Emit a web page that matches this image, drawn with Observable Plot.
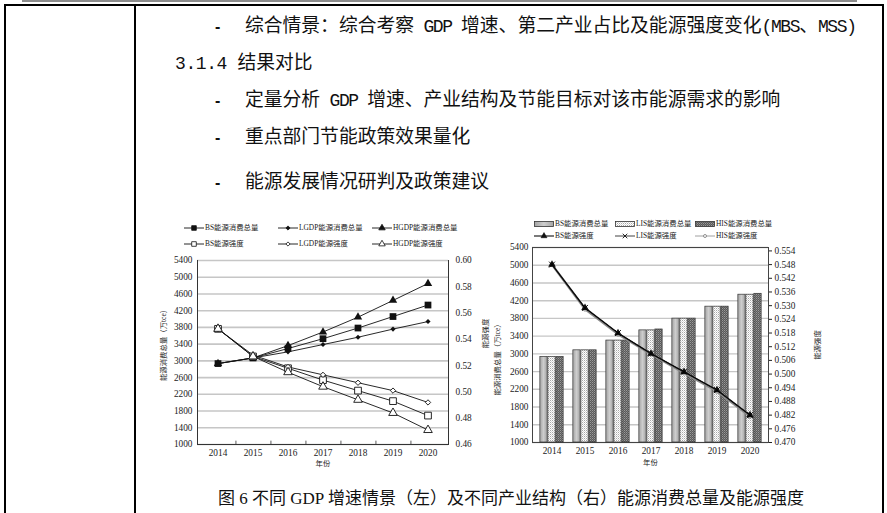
<!DOCTYPE html>
<html><head><meta charset="utf-8">
<script src="https://cdn.jsdelivr.net/npm/d3@7"></script>
<script src="https://cdn.jsdelivr.net/npm/@observablehq/plot@0.6"></script>
<style>
html,body{margin:0;padding:0;background:#fff;}
body{width:887px;height:513px;overflow:hidden;position:relative;}
.bar{position:absolute;background:#000;}
.doc{position:absolute;white-space:pre;font-family:"Noto Sans CJK SC";font-size:18.8px;line-height:24px;color:#111;}
.doc .a{font-family:"Liberation Mono";font-size:18px;letter-spacing:-1.4px;}
.doc.h .a{letter-spacing:-0.4px;}
.cap{position:absolute;white-space:pre;font-family:"Noto Sans CJK SC";font-size:17px;line-height:22px;color:#111;}
.cap .a{font-family:"Liberation Serif";font-size:17px;}
.leg{position:absolute;white-space:pre;font-family:"Liberation Serif","Noto Sans CJK SC";font-size:7.4px;line-height:10px;color:#222;}
.sw{position:absolute;line-height:0;}
.sw svg{display:block;}
.chart{position:absolute;}
</style></head><body>
<svg style="position:absolute;width:0;height:0" aria-hidden="true">
  <defs>
    <linearGradient id="gBS" x1="0" x2="1" y1="0" y2="0">
      <stop offset="0" stop-color="#a4a4a4"/><stop offset="0.5" stop-color="#cdcdcd"/><stop offset="1" stop-color="#a4a4a4"/>
    </linearGradient>
    <pattern id="pLIS" width="2" height="2" patternUnits="userSpaceOnUse">
      <rect width="2" height="2" fill="#fff"/><rect width="1" height="1" fill="#a8a8a8"/><rect x="1" y="1" width="1" height="1" fill="#d8d8d8"/>
    </pattern>
    <pattern id="pHIS" width="2" height="2" patternUnits="userSpaceOnUse">
      <rect width="2" height="2" fill="#5a5a5a"/><rect width="1" height="1" fill="#9a9a9a"/><rect x="1" y="1" width="1" height="1" fill="#7a7a7a"/>
    </pattern>
  </defs>
</svg>
<div class="bar" style="left:22px;top:0;width:835px;height:2px;background:#8c8c8c"></div>
<div class="bar" style="left:4px;top:4px;width:880px;height:2px"></div>
<div class="bar" style="left:4px;top:4px;width:2px;height:509px"></div>
<div class="bar" style="left:134px;top:4px;width:2px;height:509px"></div>
<div class="bar" style="left:882px;top:4px;width:2px;height:509px"></div>
<div id="root"></div>
<script>
// ---------------- data ----------------
const years = ["2014","2015","2016","2017","2018","2019","2020"];
// left chart: GDP growth scenarios
const consBS   = [2935, 3070, 3295, 3530, 3785, 4060, 4335];
const consLGDP = [2935, 3070, 3215, 3390, 3565, 3760, 3940];
const consHGDP = [2935, 3070, 3365, 3690, 4045, 4445, 4850];
const intBS    = [0.548, 0.527, 0.518, 0.509, 0.501, 0.493, 0.482];
const intLGDP  = [0.548, 0.528, 0.519, 0.513, 0.507, 0.501, 0.492];
const intHGDP  = [0.548, 0.527, 0.515, 0.504, 0.494, 0.484, 0.471];
// right chart: industrial structure scenarios
const barBS  = [2930, 3080, 3300, 3530, 3795, 4065, 4335];
const barLIS = [2930, 3080, 3300, 3530, 3795, 4065, 4335];
const barHIS = [2930, 3080, 3300, 3550, 3795, 4065, 4355];
const riBS  = [0.548, 0.529, 0.518, 0.509, 0.501, 0.493, 0.482];
const riLIS = [0.548, 0.529, 0.518, 0.509, 0.501, 0.493, 0.482];
const riHIS = [0.548, 0.5285, 0.5175, 0.5088, 0.5005, 0.4925, 0.4815];
// axis ticks
const leftTicks  = [1000,1400,1800,2200,2600,3000,3400,3800,4200,4600,5000,5400];
const intTicksL  = [0.46,0.48,0.50,0.52,0.54,0.56,0.58,0.60];
const intTicksR  = [0.470,0.476,0.482,0.488,0.494,0.500,0.506,0.512,0.518,0.524,0.530,0.536,0.542,0.548,0.554];
// texts
const bulletLines = [
  {y:25,  t:"综合情景：综合考察 GDP 增速、第二产业占比及能源强度变化(MBS、MSS)"},
  {y:99,  t:"定量分析 GDP 增速、产业结构及节能目标对该市能源需求的影响"},
  {y:136, t:"重点部门节能政策效果量化"},
  {y:181, t:"能源发展情况研判及政策建议"}
];
const heading = "3.1.4 结果对比";
const caption = "图 6 不同 GDP 增速情景（左）及不同产业结构（右）能源消费总量及能源强度";
const yTitle = "能源消费总量（万tce）", y2Title = "能源强度", xTitle = "年份";

// ---------------- document text ----------------
const root = document.getElementById("root");
const mix = s => s.replace(/[\x20-\x7e]+/g, m => `<span class="a">${m}</span>`);
function addDiv(cls, x, y, lh, html){
  const d = document.createElement("div");
  d.className = cls; d.style.left = x + "px"; d.style.top = (y - lh/2) + "px";
  d.innerHTML = html; root.appendChild(d); return d;
}
for (const b of bulletLines){
  addDiv("doc", 215, b.y - 1, 24, `<span style="font-family:'Liberation Sans';font-weight:bold;font-size:16px">-</span>`);
  addDiv("doc", 245, b.y - 1, 24, mix(b.t));
}
addDiv("doc h", 175, 61, 24, mix(heading));
addDiv("cap", 218, 497, 22, mix(caption));

// ---------------- legends ----------------
const sym = (type, r) => d3.symbol(type, r*r*Math.PI)();
function lineSwatch(x, y, symType, r, fill, stroke, sw, lineStroke, lineW){
  const s = document.createElement("div");
  s.className = "sw"; s.style.left = x + "px"; s.style.top = (y - 5) + "px";
  s.innerHTML = `<svg width="20" height="10"><line x1="0" x2="20" y1="5" y2="5" stroke="${lineStroke}" stroke-width="${lineW}"/>` +
    (symType ? `<path transform="translate(10,5)" d="${sym(symType, r)}" fill="${fill}" stroke="${stroke}" stroke-width="${sw}"/>` : "") + `</svg>`;
  root.appendChild(s);
}
function boxSwatch(x, y, fill){
  const s = document.createElement("div");
  s.className = "sw"; s.style.left = x + "px"; s.style.top = (y - 3) + "px";
  s.innerHTML = `<svg width="20" height="6"><rect x="0.5" y="0.5" width="19" height="5" fill="${fill}" stroke="#333" stroke-width="0.8"/></svg>`;
  root.appendChild(s);
}
const legL = [
  {x:184, y:228, t:"BS能源消费总量",   s:d3.symbolSquare,   r:2.6, f:"#111"},
  {x:278, y:228, t:"LGDP能源消费总量", s:d3.symbolDiamond2, r:1.9, f:"#111"},
  {x:372, y:228, t:"HGDP能源消费总量", s:d3.symbolTriangle, r:2.4, f:"#111"},
  {x:184, y:244, t:"BS能源强度",       s:d3.symbolSquare,   r:2.6, f:"#fff"},
  {x:278, y:244, t:"LGDP能源强度",     s:d3.symbolDiamond2, r:1.9, f:"#fff"},
  {x:372, y:244, t:"HGDP能源强度",     s:d3.symbolTriangle, r:2.4, f:"#fff"}
];
for (const l of legL){
  lineSwatch(l.x, l.y, l.s, l.r, l.f, "#111", 0.8, "#111", 0.9);
  addDiv("leg", l.x + 21, l.y, 10, l.t);
}
const legR1 = [
  {x:534, t:"BS能源消费总量",  f:"url(#gBS)"},
  {x:615, t:"LIS能源消费总量", f:"url(#pLIS)"},
  {x:695, t:"HIS能源消费总量", f:"url(#pHIS)"}
];
for (const l of legR1){ boxSwatch(l.x, 224, l.f); addDiv("leg", l.x + 21, 224, 10, l.t); }
lineSwatch(534, 236, d3.symbolTriangle, 2.2, "#111", "#111", 0.6, "#222", 1.2); addDiv("leg", 555, 236, 10, "BS能源强度");
lineSwatch(615, 236, d3.symbolTimes, 2.2, "none", "#111", 0.9, "#111", 0.8); addDiv("leg", 636, 236, 10, "LIS能源强度");
lineSwatch(695, 236, d3.symbolCircle, 1.5, "#fff", "#777", 0.8, "#888", 0.8); addDiv("leg", 716, 236, 10, "HIS能源强度");

// ---------------- left chart ----------------
const toL = v => 1000 + (v - 0.46) / (0.60 - 0.46) * 4400;
const fromL = p => 0.46 + (p - 1000) / 4400 * 0.14;
const rowsL = years.map((year, i) => ({year, bs:consBS[i], lg:consLGDP[i], hg:consHGDP[i],
  ibs:toL(intBS[i]), ilg:toL(intLGDP[i]), ihg:toL(intHGDP[i])}));
const WL = 340, HL = 222, mlL = 47, mrL = 42;
const bwL = (WL - mlL - mrL) / years.length;
const txt = {fontFamily:"Liberation Serif, Noto Sans CJK SC", fontSize:7.4, fill:"#222"};
const tickFont = {fontFamily:"Liberation Serif", fontSize:9.3};
const left = Plot.plot({
  width: WL, height: HL, marginLeft: mlL, marginRight: mrL, marginTop: 8, marginBottom: 30,
  style: {background:"transparent", fontFamily:"Liberation Serif", fontSize:"9.3px", color:"#222", overflow:"visible"},
  x: {type:"band", domain: years, padding: 0, label: null},
  y: {domain: [1000, 5400], label: null},
  marks: [
    Plot.gridY(leftTicks, {stroke:"#c6c6c6", strokeOpacity:1, strokeWidth:1.6}),
    Plot.ruleX(years.slice(0, -1), {dx: bwL/2, y1: 1000, y2: 1080, stroke:"#333", strokeWidth:0.8}),
    Plot.frame({anchor:"left", stroke:"#333"}),
    Plot.frame({anchor:"right", stroke:"#333"}),
    Plot.frame({anchor:"bottom", stroke:"#333"}),
    Plot.axisY(leftTicks, {anchor:"left", tickSize:0, tickPadding:5, label:null, tickFormat: d => String(d), ...tickFont}),
    Plot.axisY(intTicksL.map(toL), {anchor:"right", tickSize:0, tickPadding:7, label:null, tickFormat: p => fromL(p).toFixed(2), ...tickFont}),
    Plot.axisX({tickSize:0, tickPadding:5, label:null, ...tickFont}),
    Plot.line(rowsL, {x:"year", y:"bs", stroke:"#111", strokeWidth:0.9}),
    Plot.line(rowsL, {x:"year", y:"lg", stroke:"#111", strokeWidth:0.9}),
    Plot.line(rowsL, {x:"year", y:"hg", stroke:"#111", strokeWidth:0.9}),
    Plot.line(rowsL, {x:"year", y:"ibs", stroke:"#111", strokeWidth:0.9}),
    Plot.line(rowsL, {x:"year", y:"ilg", stroke:"#111", strokeWidth:0.9}),
    Plot.line(rowsL, {x:"year", y:"ihg", stroke:"#111", strokeWidth:0.9}),
    Plot.dot(rowsL, {x:"year", y:"bs", symbol:"square", r:3.8, fill:"#111", stroke:"none"}),
    Plot.dot(rowsL, {x:"year", y:"lg", symbol:"diamond2", r:2.3, fill:"#111", stroke:"none"}),
    Plot.dot(rowsL, {x:"year", y:"hg", symbol:"triangle", r:3.1, fill:"#111", stroke:"none"}),
    Plot.dot(rowsL, {x:"year", y:"ibs", symbol:"square", r:3.8, fill:"#fff", stroke:"#111", strokeWidth:0.9}),
    Plot.dot(rowsL, {x:"year", y:"ilg", symbol:"diamond2", r:2.4, fill:"#fff", stroke:"#111", strokeWidth:0.9}),
    Plot.dot(rowsL, {x:"year", y:"ihg", symbol:"triangle", r:3.2, fill:"#fff", stroke:"#111", strokeWidth:0.9}),
    Plot.text([yTitle], {text: d => d, frameAnchor:"left", dx:-34, dy:-9, rotate:-90, textAnchor:"middle", ...txt}),
    Plot.text([y2Title], {text: d => d, frameAnchor:"right", dx:37, dy:-19, rotate:-90, textAnchor:"middle", ...txt}),
    Plot.text([xTitle], {text: d => d, frameAnchor:"bottom", dy:21, textAnchor:"middle", ...txt})
  ]
});
const cL = document.createElement("div");
cL.className = "chart"; cL.style.left = "150px"; cL.style.top = "252px"; cL.style.width = WL + "px";
cL.appendChild(left); root.appendChild(cL);

// ---------------- right chart ----------------
const R2 = [0.470, 0.5555];
const toR = v => 1000 + (v - R2[0]) / (R2[1] - R2[0]) * 4400;
const fromR = p => R2[0] + (p - 1000) / 4400 * (R2[1] - R2[0]);
const rowsR = years.map((year, i) => ({year, bs:barBS[i], lis:barLIS[i], his:barHIS[i],
  ibs:toR(riBS[i]), ilis:toR(riLIS[i]), ihis:toR(riHIS[i])}));
const WR = 337, HR = 235, mlR = 44, mrR = 57;
const bwR = (WR - mlR - mrR) / years.length;
const barW = 8, ins = (bwR - barW) / 2;
const base = () => 1000;
const right = Plot.plot({
  width: WR, height: HR, marginLeft: mlR, marginRight: mrR, marginTop: 7, marginBottom: 33,
  style: {background:"transparent", fontFamily:"Liberation Serif", fontSize:"9.3px", color:"#222", overflow:"visible"},
  x: {type:"band", domain: years, padding: 0, label: null},
  y: {domain: [1000, 5400], label: null},
  marks: [
    Plot.gridY(leftTicks, {stroke:"#c6c6c6", strokeOpacity:1, strokeWidth:1.4}),
    Plot.frame({stroke:"#444"}),
    Plot.axisY(leftTicks, {anchor:"left", tickSize:0, tickPadding:4, label:null, tickFormat: d => String(d), ...tickFont}),
    Plot.axisY(intTicksR.map(toR), {anchor:"right", tickSize:3, tickPadding:3, label:null, tickFormat: p => fromR(p).toFixed(3), ...tickFont}),
    Plot.axisX({tickSize:0, tickPadding:5, label:null, ...tickFont}),
    Plot.barY(rowsR, {x:"year", y1: base, y2:"bs",  fill:"url(#gBS)",  stroke:"#333", strokeWidth:0.7, insetLeft:ins, insetRight:ins, dx:-barW}),
    Plot.barY(rowsR, {x:"year", y1: base, y2:"lis", fill:"url(#pLIS)", stroke:"#333", strokeWidth:0.7, insetLeft:ins, insetRight:ins}),
    Plot.barY(rowsR, {x:"year", y1: base, y2:"his", fill:"url(#pHIS)", stroke:"#333", strokeWidth:0.7, insetLeft:ins, insetRight:ins, dx:barW}),
    Plot.line(rowsR, {x:"year", y:"ihis", stroke:"#8a8a8a", strokeWidth:2.4}),
    Plot.line(rowsR, {x:"year", y:"ibs", stroke:"#222", strokeWidth:1.5}),
    Plot.line(rowsR, {x:"year", y:"ilis", stroke:"#000", strokeWidth:0.8}),
    Plot.dot(rowsR, {x:"year", y:"ihis", symbol:"circle", r:2, fill:"#fff", stroke:"#666", strokeWidth:0.8}),
    Plot.dot(rowsR, {x:"year", y:"ibs", symbol:"triangle", r:2.8, fill:"#111", stroke:"none"}),
    Plot.dot(rowsR, {x:"year", y:"ilis", symbol:"times", r:2.8, stroke:"#000", strokeWidth:0.9}),
    Plot.text([yTitle], {text: d => d, frameAnchor:"left", dx:-35, dy:13, rotate:-90, textAnchor:"middle", ...txt}),
    Plot.text([y2Title], {text: d => d, frameAnchor:"right", dx:49, dy:0, rotate:-90, textAnchor:"middle", ...txt}),
    Plot.text([xTitle], {text: d => d, frameAnchor:"bottom", dy:22, textAnchor:"middle", ...txt})
  ]
});
const cR = document.createElement("div");
cR.className = "chart"; cR.style.left = "488px"; cR.style.top = "240px"; cR.style.width = WR + "px";
cR.appendChild(right); root.appendChild(cR);
</script>
</body></html>
